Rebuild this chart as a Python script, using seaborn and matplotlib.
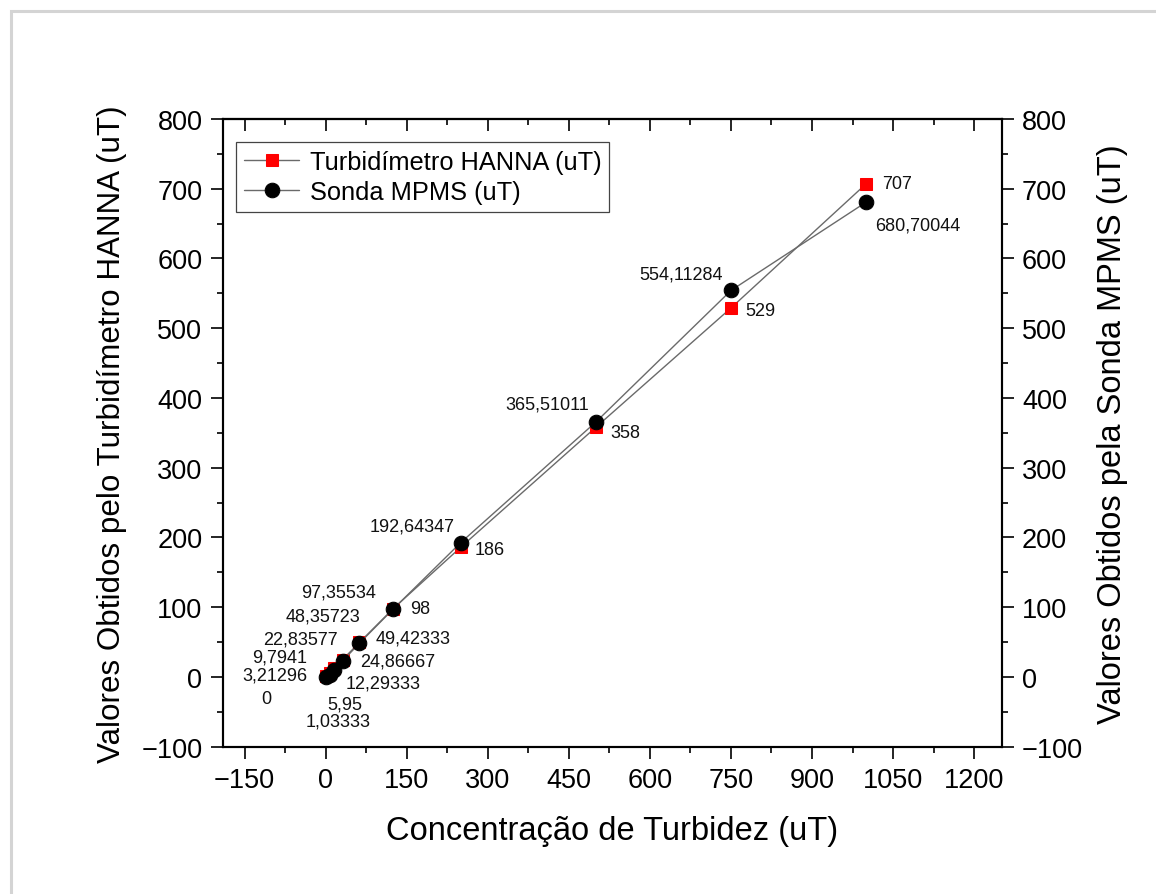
import matplotlib
matplotlib.use("Agg")
import matplotlib.pyplot as plt
import seaborn as sns
import pandas as pd
from matplotlib.ticker import MultipleLocator
from matplotlib.patches import Rectangle

# ---- data ----
concentracao = [0, 7.8125, 15.625, 31.25, 62.5, 125, 250, 500, 750, 1000]
hanna = [1.03333, 5.95, 12.29333, 24.86667, 49.42333, 98, 186, 358, 529, 707]
mpms = [0, 3.21296, 9.7941, 22.83577, 48.35723, 97.35534, 192.64347, 365.51011, 554.11284, 680.70044]
hanna_labels = ["1,03333", "5,95", "12,29333", "24,86667", "49,42333", "98", "186", "358", "529", "707"]
mpms_labels = ["0", "3,21296", "9,7941", "22,83577", "48,35723", "97,35534", "192,64347",
               "365,51011", "554,11284", "680,70044"]

# label offsets in pixels (dx, dy up)
hanna_off = [(12, -45), (15, -31), (49, -15), (55, -1), (54, 4), (27, 0), (29, -2), (29, -5), (29, -2), (31, 0)]
mpms_off = [(-59, -22), (-55, 0), (-54, 13), (-42, 22), (-36, 27), (-55, 17), (-49, 17), (-49, 18), (-50, 16), (52, -23)]

df = pd.DataFrame({"x": concentracao, "hanna": hanna, "mpms": mpms})

sns.set_style("ticks")
plt.rcParams["font.family"] = ["Liberation Sans", "DejaVu Sans"]
plt.rcParams["axes.unicode_minus"] = True
plt.rcParams["text.color"] = "black"
plt.rcParams["axes.labelcolor"] = "black"

fig = plt.figure(figsize=(11.56, 8.95), dpi=100)
fig.patch.set_facecolor("white")
# page frame/shadow
fig.patches.append(Rectangle((11 / 1156, -0.05), 1.2, 1 - 12 / 895 + 0.05, transform=fig.transFigure,
                             fill=False, edgecolor="#d4d4d4", linewidth=2.2, zorder=0))

ax = fig.add_axes([222.7 / 1156, 1 - 747.7 / 895, 779 / 1156, 627.7 / 895])

line_col = "#6a6a6a"
sns.lineplot(data=df, x="x", y="hanna", ax=ax, color=line_col, linewidth=1.0, marker="s",
             markersize=8.6, markerfacecolor="#ff0000", markeredgecolor="#ff0000",
             label="Turbidímetro HANNA (uT)", sort=False, zorder=3)
sns.lineplot(data=df, x="x", y="mpms", ax=ax, color=line_col, linewidth=1.0, marker="o",
             markersize=10.5, markerfacecolor="black", markeredgecolor="black",
             label="Sonda MPMS (uT)", sort=False, zorder=4)

for xv, yv, t, (dx, dy) in zip(concentracao, hanna, hanna_labels, hanna_off):
    ax.annotate(t, (xv, yv), xytext=(dx, dy), textcoords="offset pixels",
                ha="center", va="center", fontsize=13, color="#111111")
for xv, yv, t, (dx, dy) in zip(concentracao, mpms, mpms_labels, mpms_off):
    ax.annotate(t, (xv, yv), xytext=(dx, dy), textcoords="offset pixels",
                ha="center", va="center", fontsize=13, color="#111111")

ax.set_xlim(-190.5, 1251)
ax.set_ylim(-100, 800)
ax.xaxis.set_major_locator(MultipleLocator(150))
ax.xaxis.set_minor_locator(MultipleLocator(75))
ax.yaxis.set_major_locator(MultipleLocator(100))
ax.yaxis.set_minor_locator(MultipleLocator(50))

for s in ax.spines.values():
    s.set_linewidth(1.5)
    s.set_color("black")

ax.tick_params(axis="both", which="major", direction="out", length=8.6, width=1.2,
               labelsize=19.5, pad=6, colors="black")
ax.tick_params(axis="both", which="minor", direction="out", length=4.3, width=1.2, colors="black")
ax.tick_params(axis="x", top=False)
ax.tick_params(axis="y", right=False)

# top axis: inward ticks, no labels
sec = ax.secondary_xaxis("top")
sec.xaxis.set_major_locator(MultipleLocator(150))
sec.xaxis.set_minor_locator(MultipleLocator(75))
sec.tick_params(axis="x", which="major", direction="in", length=8.6, width=1.2, labeltop=False, colors="black")
sec.tick_params(axis="x", which="minor", direction="in", length=4.3, width=1.2, colors="black")
sec.spines["top"].set_linewidth(1.5)
sec.spines["top"].set_color("black")

# right axis
ax2 = ax.twinx()
ax2.set_ylim(-100, 800)
ax2.yaxis.set_major_locator(MultipleLocator(100))
ax2.yaxis.set_minor_locator(MultipleLocator(50))
ax2.tick_params(axis="y", which="major", direction="out", length=8.6, width=1.2, labelsize=19.5, pad=6,
                colors="black")
ax2.tick_params(axis="y", which="minor", direction="out", length=4.3, width=1.2, colors="black")
for s in ax2.spines.values():
    s.set_linewidth(1.5)
    s.set_color("black")
ax2.set_ylabel("Valores Obtidos pela Sonda MPMS (uT)", fontsize=23.5, labelpad=10, color="black")

ax.set_xlabel("Concentração de Turbidez (uT)", fontsize=23.5, labelpad=16, color="black")
ax.set_ylabel("Valores Obtidos pelo Turbidímetro HANNA (uT)", fontsize=22.6, labelpad=10, color="black")

leg = ax.legend(loc="upper left", bbox_to_anchor=(0.017, 0.963), fontsize=18.3, frameon=True,
                fancybox=False, edgecolor="#444444", framealpha=1, handlelength=2.2,
                borderpad=0.3, labelspacing=0.25, handletextpad=0.4, borderaxespad=0)
leg.get_frame().set_linewidth(0.9)
for t in leg.get_texts():
    t.set_color("black")

fig.savefig("out.png", dpi=100, facecolor="white")
